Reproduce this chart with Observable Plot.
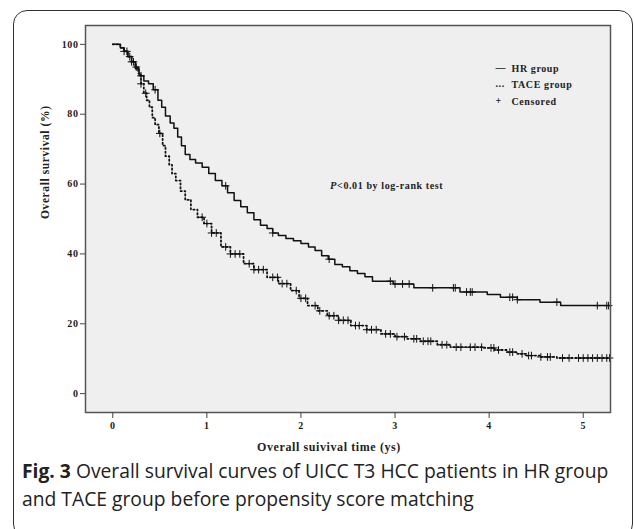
<!DOCTYPE html>
<html><head><meta charset="utf-8">
<script src="https://cdn.jsdelivr.net/npm/d3@7"></script>
<script src="https://cdn.jsdelivr.net/npm/@observablehq/plot@0.6"></script>
<style>
html,body{margin:0;padding:0;background:#fff;}
body{width:634px;height:529px;overflow:hidden;position:relative;font-family:"Open Sans",sans-serif;}
#box{position:absolute;left:13px;top:10px;width:620px;height:528px;border:1.5px solid #333;border-radius:14px;box-sizing:border-box;}
#chart{position:absolute;left:0;top:0;}
#cap{position:absolute;left:22px;top:457px;width:604px;font-size:19.3px;line-height:28px;color:#222;}
#cap b{font-weight:700;}
</style></head><body>
<div id="box"></div>
<div id="chart"></div>
<div id="cap"></div>
<script>
// ---- data ----
const hrTime = [0, 0.08, 0.12, 0.16, 0.2, 0.24, 0.28, 0.33, 0.38, 0.43, 0.48, 0.52, 0.56, 0.61, 0.65, 0.69, 0.73, 0.77, 0.82, 0.88, 0.95, 1.02, 1.09, 1.16, 1.22, 1.29, 1.36, 1.43, 1.50, 1.57, 1.64, 1.70, 1.76, 1.84, 1.92, 2.00, 2.08, 2.15, 2.22, 2.29, 2.36, 2.44, 2.52, 2.60, 2.68, 2.76, 2.98, 3.20, 3.69, 3.98, 4.12, 4.30, 4.54, 4.76, 5.28];
const hrSurv = [100, 99, 98, 96.5, 95, 93, 91, 89.5, 88.7, 87, 84, 82, 79.5, 77.5, 76, 73.5, 71, 68.5, 67, 66, 64.8, 63, 61, 59.5, 57.5, 55.3, 53.5, 51.8, 49.8, 48.2, 47.3, 46, 45.3, 44.4, 43.8, 43, 42, 41, 39.5, 38.5, 37, 36.3, 35.2, 34.4, 33.5, 32.2, 31.4, 30.3, 29.1, 28.4, 27.6, 26.9, 26.2, 25.2, 25.2];
const taceTime = [0, 0.08, 0.12, 0.16, 0.2, 0.24, 0.27, 0.30, 0.33, 0.36, 0.39, 0.42, 0.45, 0.49, 0.53, 0.56, 0.60, 0.63, 0.67, 0.72, 0.77, 0.83, 0.90, 0.97, 1.05, 1.15, 1.25, 1.39, 1.50, 1.64, 1.76, 1.89, 1.98, 2.07, 2.18, 2.28, 2.40, 2.53, 2.70, 2.85, 3.00, 3.13, 3.27, 3.45, 3.59, 3.94, 4.06, 4.19, 4.30, 4.40, 4.55, 4.72, 5.28];
const taceSurv = [100, 99, 98, 96.5, 95, 93.5, 91.7, 88.7, 86, 84, 82, 79, 77, 74.5, 71, 68, 65.5, 63, 61, 58, 55.5, 52.7, 50.5, 48.7, 46, 42, 40, 37.2, 35.5, 33.3, 31.5, 29.5, 27.3, 25.2, 23.7, 22.3, 21, 19.5, 18.3, 17.1, 16.3, 15.7, 15, 14, 13.3, 13.1, 12.5, 11.9, 11.4, 10.9, 10.5, 10.2, 10.2];
const hrCensor = [0.12, 0.18, 0.22, 0.30, 0.45, 1.20, 1.70, 2.30, 2.95, 3.00, 3.08, 3.15, 3.40, 3.62, 3.64, 3.76, 3.80, 3.82, 4.22, 4.25, 4.30, 4.72, 5.15, 5.25, 5.27];
const taceCensor = [0.15, 0.20, 0.25, 0.30, 0.35, 0.50, 0.95, 1.00, 1.05, 1.10, 1.20, 1.25, 1.30, 1.35, 1.45, 1.50, 1.55, 1.60, 1.70, 1.75, 1.80, 1.85, 1.95, 2.00, 2.05, 2.15, 2.20, 2.30, 2.35, 2.40, 2.45, 2.50, 2.58, 2.62, 2.70, 2.75, 2.80, 2.90, 2.95, 3.02, 3.10, 3.20, 3.23, 3.30, 3.35, 3.38, 3.50, 3.55, 3.65, 3.70, 3.80, 3.85, 3.92, 4.02, 4.05, 4.10, 4.22, 4.25, 4.35, 4.42, 4.45, 4.55, 4.62, 4.65, 4.78, 4.85, 4.95, 5.00, 5.05, 5.10, 5.15, 5.20, 5.25, 5.28];
const xTicks = [0, 1, 2, 3, 4, 5];
const yTicks = [0, 20, 40, 60, 80, 100];
const legendSymbols = ["\u2014", "...", "+"];
const legendLabels = ["HR group", "TACE group", "Censored"];
const pText = ["P", "<0.01 by log-rank test"];
const xLabel = "Overall suivival time (ys)";
const yLabel = "Overall survival (%)";
const captionBold = "Fig. 3";
const captionText = " Overall survival curves of UICC T3 HCC patients in HR group and TACE group before propensity score matching";

// ---- build tables ----
const hr = hrTime.map((t, i) => ({t, s: hrSurv[i]}));
const tace = taceTime.map((t, i) => ({t, s: taceSurv[i]}));
function survAt(times, surv, t) {
  let v = surv[0];
  for (let i = 0; i < times.length; i++) { if (times[i] <= t) v = surv[i]; else break; }
  return v;
}
const hrC = hrCensor.map(t => ({t, s: survAt(hrTime, hrSurv, t)}));
const taceC = taceCensor.map(t => ({t, s: survAt(taceTime, taceSurv, t)}));

const serif = "'Liberation Serif', 'DejaVu Serif', serif";
const legendMarks = legendLabels.map((label, i) => [
  Plot.text([legendSymbols[i]], {frameAnchor: "top-left", dx: 410, dy: 38 + i * 16.8, textAnchor: "start", fontSize: 10, fill: "#222"}),
  Plot.text([label], {frameAnchor: "top-left", dx: 426, dy: 39 + i * 16.8, textAnchor: "start", fontSize: 10, fill: "#222"})
]).flat();

const chart = Plot.plot({
  width: 634, height: 460,
  marginLeft: 85, marginRight: 24, marginTop: 25, marginBottom: 48,
  x: {domain: [-0.29, 5.29], axis: null},
  y: {domain: [-5.4, 105.4], axis: null},
  style: {fontFamily: serif, fontWeight: "bold", fontSize: "10px", color: "#222", background: "transparent", letterSpacing: "0.6px"},
  marks: [
    Plot.frame({fill: "#efefef", stroke: null}),
    Plot.line(hr, {x: "t", y: "s", curve: "step-after", stroke: "#111", strokeWidth: 1.5}),
    Plot.line(tace, {x: "t", y: "s", curve: "step-after", stroke: "#111", strokeWidth: 1.8, strokeDasharray: "1.3,2.6"}),
    Plot.dot(hrC, {x: "t", y: "s", symbol: "plus", r: 2.6, stroke: "#111", strokeWidth: 1}),
    Plot.dot(taceC, {x: "t", y: "s", symbol: "plus", r: 2.6, stroke: "#111", strokeWidth: 1}),
    Plot.frame({stroke: "#555", strokeWidth: 1.5}),
    Plot.axisY({ticks: yTicks, tickSize: 5, tickPadding: 2, tickFormat: d3.format("d"), label: null, stroke: "#444", fontSize: 10}),
    Plot.axisX({ticks: xTicks, tickSize: 6, tickPadding: 3, tickFormat: d3.format("d"), label: null, stroke: "#444", fontSize: 10}),
    Plot.text([yLabel], {frameAnchor: "left", rotate: -90, dx: -40, fontSize: 11.5, fill: "#222"}),
    Plot.text([xLabel], {frameAnchor: "bottom", dx: -19, dy: 38, fontSize: 12, fill: "#222"}),
    Plot.text([pText[0]], {x: 2.31, y: 59.6, textAnchor: "start", fontStyle: "italic", fontSize: 10.5, fill: "#222"}),
    Plot.text([pText[1]], {x: 2.31, y: 59.6, dx: 7, textAnchor: "start", fontSize: 10, fill: "#222"}),
    ...legendMarks
  ]
});
document.getElementById("chart").appendChild(chart);
const cap = document.getElementById("cap");
const b = document.createElement("b"); b.textContent = captionBold;
cap.appendChild(b); cap.appendChild(document.createTextNode(captionText));
</script>
</body></html>
